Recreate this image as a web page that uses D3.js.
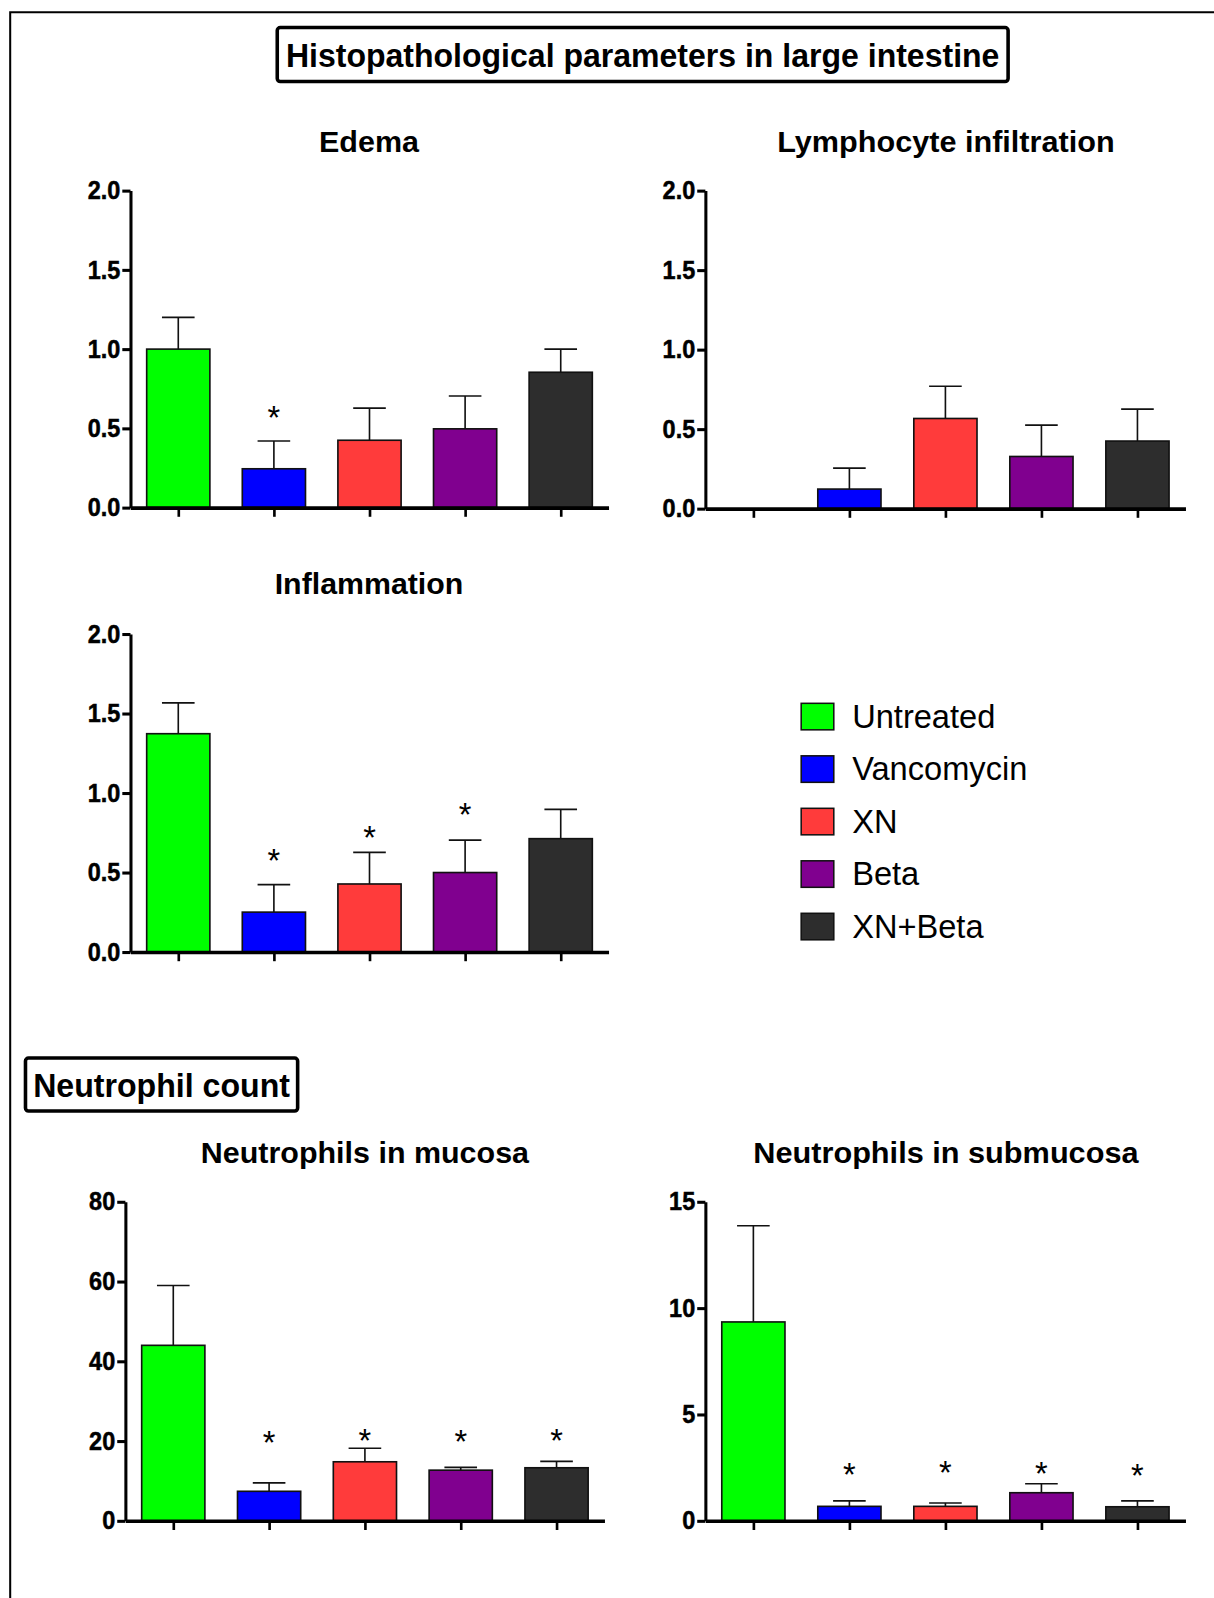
<!DOCTYPE html>
<html>
<head>
<meta charset="utf-8">
<script src="https://cdn.jsdelivr.net/npm/d3@7/dist/d3.min.js"></script>
<style>
  body { margin: 0; background: #fff; }
  svg { display: block; }
  text { font-family: "Liberation Sans", Arial, Helvetica, sans-serif; fill: #000; }
</style>
</head>
<body>
<div id="fig"></div>
<script>
// groups and colours
const groups = ["Untreated", "Vancomycin", "XN", "Beta", "XN+Beta"];
const groupColors = ["#00ff00", "#0000ff", "#ff3b3b", "#80008f", "#2d2d2d"];

// Edema
const edemaMean = [1.0, 0.245, 0.425, 0.497, 0.854];
const edemaErr  = [1.2, 0.42, 0.628, 0.704, 1.0];
const edemaStar = [null, 0.61, null, null, null];

// Lymphocyte infiltration
const lymphMean = [0, 0.123, 0.567, 0.328, 0.425];
const lymphErr  = [0, 0.255, 0.77, 0.525, 0.626];
const lymphStar = [null, null, null, null, null];

// Inflammation
const inflMean = [1.373, 0.251, 0.428, 0.5, 0.713];
const inflErr  = [1.567, 0.424, 0.627, 0.704, 0.897];
const inflStar = [null, 0.62, 0.765, 0.905, null];

// Neutrophils in mucosa
const mucMean = [44.0, 7.4, 14.8, 12.7, 13.3];
const mucErr  = [59.0, 9.5, 18.2, 13.4, 14.9];
const mucStar = [null, 21.3, 21.8, 21.5, 21.8];

// Neutrophils in submucosa
const subMean = [9.35, 0.68, 0.68, 1.32, 0.66];
const subErr  = [13.87, 0.94, 0.84, 1.74, 0.94];
const subStar = [null, 2.5, 2.6, 2.55, 2.45];

const scoreTicks = [0, 0.5, 1.0, 1.5, 2.0];
const mucTicks = [0, 20, 40, 60, 80];
const subTicks = [0, 5, 10, 15];

// Layout (drawn in the 1191-wide space, then scaled up)
const W = 1214, H = 1598, S = 1214 / 1191;
const FONT = "'Liberation Sans', Arial, Helvetica, sans-serif";

const panels = [
  {title: "Edema", tw: 98, tx: 362, ty: 149, mean: edemaMean, err: edemaErr, star: edemaStar,
   domain: [0, 2], ticks: scoreTicks, fmt: d3.format(".1f"), ax: 128, xEnd: 597, yTop: 187, yBot: 498},
  {title: "Lymphocyte infiltration", tw: 331, tx: 928, ty: 149, mean: lymphMean, err: lymphErr, star: lymphStar,
   domain: [0, 2], ticks: scoreTicks, fmt: d3.format(".1f"), ax: 692, xEnd: 1163, yTop: 187, yBot: 499},
  {title: "Inflammation", tw: 185, tx: 362, ty: 583, mean: inflMean, err: inflErr, star: inflStar,
   domain: [0, 2], ticks: scoreTicks, fmt: d3.format(".1f"), ax: 128, xEnd: 597, yTop: 622, yBot: 934},
  {title: "Neutrophils in mucosa", tw: 322, tx: 358, ty: 1141, mean: mucMean, err: mucErr, star: mucStar,
   domain: [0, 80], ticks: mucTicks, fmt: d3.format("d"), ax: 123, xEnd: 593, yTop: 1179, yBot: 1492},
  {title: "Neutrophils in submucosa", tw: 378, tx: 928, ty: 1141, mean: subMean, err: subErr, star: subStar,
   domain: [0, 15], ticks: subTicks, fmt: d3.format("d"), ax: 692, xEnd: 1163, yTop: 1179, yBot: 1492}
];

const color = d3.scaleOrdinal().domain(groups).range(groupColors);

const svg = d3.select("#fig").append("svg")
  .attr("width", W)
  .attr("height", H);

const root = svg.append("g").attr("transform", `scale(${S})`);

// outer frame (only top and left edges are inside the picture)
root.append("path")
  .attr("d", "M10,1600V12H1200")
  .attr("fill", "none")
  .attr("stroke", "#000")
  .attr("stroke-width", 2);

// boxed headings
function boxedHeading(x, y, w, h, label, fs, tl) {
  root.append("rect")
    .attr("x", x).attr("y", y).attr("width", w).attr("height", h)
    .attr("rx", 3)
    .attr("fill", "#fff")
    .attr("stroke", "#000")
    .attr("stroke-width", 3.5);
  root.append("text")
    .attr("x", x + w / 2)
    .attr("y", y + h / 2 + fs * 0.36)
    .attr("text-anchor", "middle")
    .attr("font-size", fs)
    .attr("font-weight", "bold")
    .attr("textLength", tl)
    .attr("lengthAdjust", "spacingAndGlyphs")
    .text(label);
}
boxedHeading(272, 27, 717, 53, "Histopathological parameters in large intestine", 33, 700);
boxedHeading(25, 1038, 267, 52, "Neutrophil count", 33, 252);

function drawPanel(p) {
  const g = root.append("g");
  const y = d3.scaleLinear().domain(p.domain).range([p.yBot, p.yTop]);
  const x = d3.scalePoint().domain(groups).range([p.ax, p.xEnd]).padding(0.5);
  const barW = 62;

  const rows = groups.map((k, i) => ({k, mean: p.mean[i], err: p.err[i], star: p.star[i]}));

  // title
  g.append("text")
    .attr("x", p.tx).attr("y", p.ty)
    .attr("text-anchor", "middle")
    .attr("font-size", 29)
    .attr("font-weight", "bold")
    .attr("textLength", p.tw)
    .attr("lengthAdjust", "spacingAndGlyphs")
    .text(p.title);

  // error bars (upper only)
  const eb = g.selectAll("g.err")
    .data(rows.filter(d => d.err > d.mean))
    .join("g").attr("class", "err")
    .attr("stroke", "#111").attr("stroke-width", 1.6);
  eb.append("line")
    .attr("x1", d => x(d.k)).attr("x2", d => x(d.k))
    .attr("y1", d => y(d.mean)).attr("y2", d => y(d.err));
  eb.append("line")
    .attr("x1", d => x(d.k) - 16).attr("x2", d => x(d.k) + 16)
    .attr("y1", d => y(d.err)).attr("y2", d => y(d.err));

  // bars
  g.selectAll("rect.bar")
    .data(rows.filter(d => d.mean > 0))
    .join("rect").attr("class", "bar")
    .attr("x", d => x(d.k) - barW / 2)
    .attr("width", barW)
    .attr("y", d => y(d.mean))
    .attr("height", d => y(0) - y(d.mean))
    .attr("fill", d => color(d.k))
    .attr("stroke", "#111")
    .attr("stroke-width", 1.6);

  // significance stars
  g.selectAll("text.star")
    .data(rows.filter(d => d.star != null))
    .join("text").attr("class", "star")
    .attr("x", d => x(d.k))
    .attr("y", d => y(d.star) + 18)
    .attr("text-anchor", "middle")
    .attr("font-size", 32)
    .text("*");

  // y axis
  const ya = g.append("g")
    .attr("transform", `translate(${p.ax},0)`)
    .call(d3.axisLeft(y).tickValues(p.ticks).tickFormat(p.fmt).tickSize(8).tickSizeOuter(0).tickPadding(2));
  ya.select(".domain").attr("stroke-width", 3);
  ya.selectAll(".tick line").attr("stroke-width", 3);
  ya.selectAll(".tick text")
    .attr("font-size", 25)
    .attr("font-weight", "bold")
    .attr("font-family", FONT)
    .attr("stroke", "#000")
    .attr("stroke-width", 0.5)
    .each(function() {
      const t = d3.select(this);
      t.attr("textLength", this.getComputedTextLength() * 0.92)
       .attr("lengthAdjust", "spacingAndGlyphs");
    });

  // x axis
  const xa = g.append("g")
    .attr("transform", `translate(0,${y(0)})`)
    .call(d3.axisBottom(x).tickSize(9).tickSizeOuter(0).tickFormat(""));
  xa.select(".domain").attr("stroke-width", 3.5);
  xa.selectAll(".tick line").attr("stroke-width", 2.6);
}

panels.forEach(drawPanel);

// legend
const legend = root.append("g")
  .selectAll("g.legendEntry")
  .data(groups)
  .join("g").attr("class", "legendEntry")
  .attr("transform", (d, i) => `translate(786,${703 + i * 51.5})`);

legend.append("rect")
  .attr("x", 0).attr("y", -13)
  .attr("width", 32).attr("height", 26)
  .attr("fill", d => color(d))
  .attr("stroke", "#111")
  .attr("stroke-width", 1.5);

legend.append("text")
  .attr("x", 50).attr("y", 11)
  .attr("font-size", 32)
  .text(d => d);
</script>
</body>
</html>
